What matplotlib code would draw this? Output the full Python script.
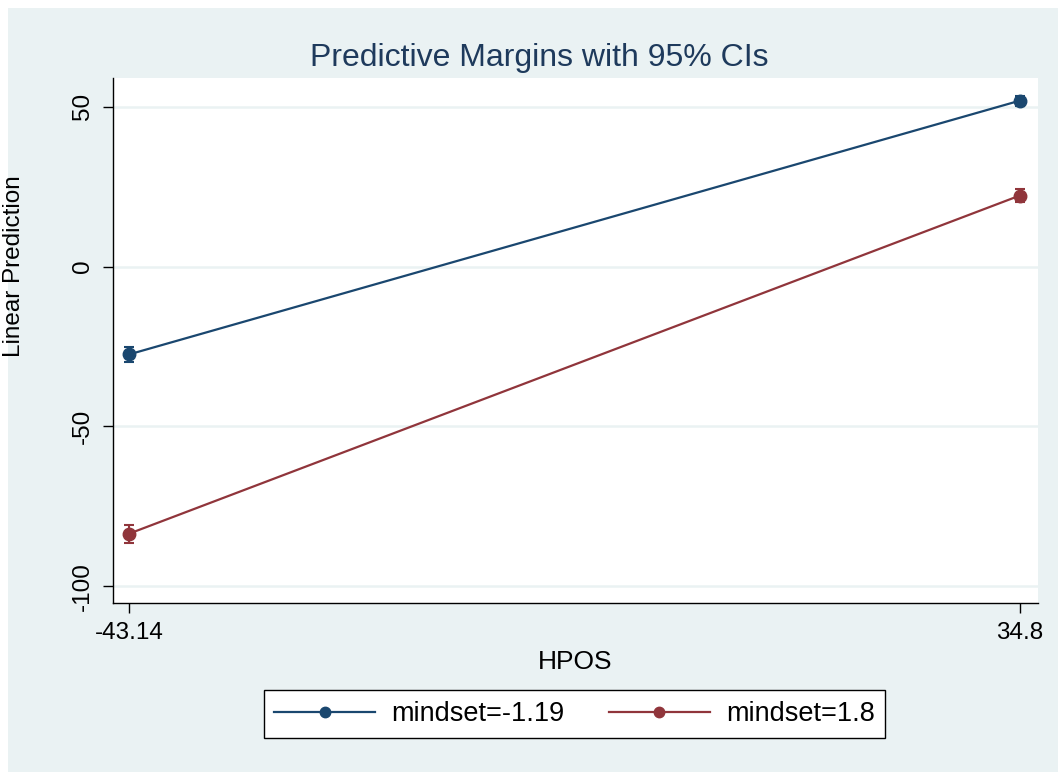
import matplotlib.pyplot as plt
from matplotlib.lines import Line2D
from matplotlib.patches import Rectangle

# Predictive margins
hpos = [-43.14, 34.8]
series_labels = ["mindset=-1.19", "mindset=1.8"]
margins = [
    [-27.5, 51.9],
    [-83.6, 22.2],
]
ci_half = [
    [2.4, 1.6],
    [2.8, 2.0],
]
colors = ["#1A476F", "#90353B"]
yticks = [-100, -50, 0, 50]
xtick_labels = ["-43.14", "34.8"]

BG = "#EAF2F3"
plt.rcParams["font.family"] = ["Liberation Sans", "DejaVu Sans"]

fig = plt.figure(figsize=(10.58, 7.72), dpi=100, facecolor="white")
# light graph region with a thin white margin on top and left
fig.patches.append(Rectangle((8 / 1058, 0), 1, 1 - 8 / 772, transform=fig.transFigure,
                             facecolor=BG, edgecolor="none", zorder=-5))

ax = fig.add_axes([113 / 1058, 1 - 603 / 772, (1038 - 113) / 1058, (603 - 78) / 772])
ax.set_facecolor("white")

handles = []
for vals, err, label, color in zip(margins, ci_half, series_labels, colors):
    ax.errorbar(hpos, vals, yerr=err, color=color, lw=1.6, marker="o", markersize=9,
                capsize=3.5, capthick=1.5, elinewidth=1.5)
    handles.append(Line2D([], [], color=color, lw=1.6, marker="o", markersize=7.5, label=label))

ax.set_xlim(-44.55, 36.4)
ax.set_ylim(-105.3, 59)
ax.set_xticks(hpos)
ax.set_xticklabels(xtick_labels)
ax.set_yticks(yticks)
ax.set_yticklabels([str(t) for t in yticks], rotation=90, va="center")
ax.yaxis.grid(True, color=BG, lw=1.8)
ax.set_axisbelow(True)
for side in ["top", "right"]:
    ax.spines[side].set_visible(False)
for side in ["left", "bottom"]:
    ax.spines[side].set_color("black")
    ax.spines[side].set_linewidth(1.0)
ax.tick_params(axis="both", direction="out", length=7, width=1.0, labelsize=17.5, pad=7)

ax.set_xlabel("HPOS", fontsize=19, labelpad=4)
fig.text(539 / 1058, 1 - 58 / 772, "Predictive Margins with 95% CIs", ha="center", va="center",
         fontsize=23, color="#1E3A5C")
fig.text(14 / 1058, 1 - 266 / 772, "Linear Prediction", rotation=90, ha="center", va="center",
         fontsize=17.5)

leg = fig.legend(handles=handles, loc="center", bbox_to_anchor=(574.5 / 1058, 1 - 714 / 772),
                 ncol=2, fontsize=19.5, frameon=True, fancybox=False, edgecolor="black",
                 framealpha=1, handlelength=3.7, handletextpad=0.6, columnspacing=1.67,
                 borderpad=0.4, borderaxespad=0)
leg.get_frame().set_linewidth(1.0)
leg.get_frame().set_facecolor("white")

fig.savefig("out.png", dpi=100, facecolor=fig.get_facecolor())
